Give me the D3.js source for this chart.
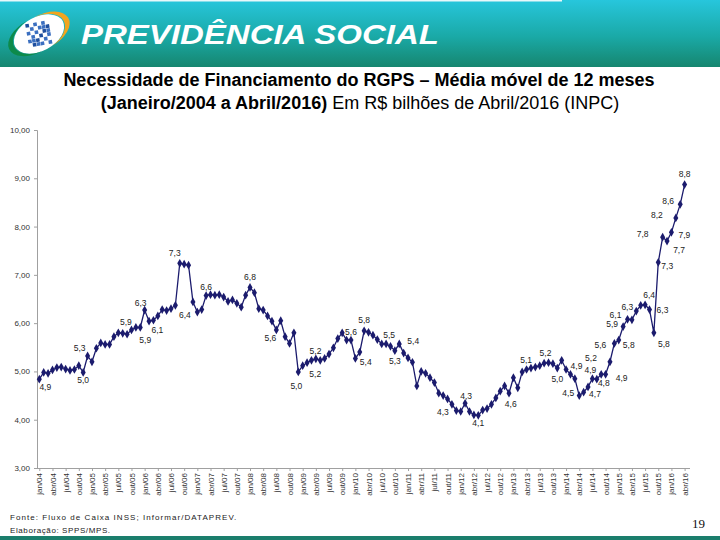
<!DOCTYPE html>
<html lang="pt">
<head>
<meta charset="UTF-8">
<title>Necessidade de Financiamento do RGPS</title>
<script src="https://d3js.org/d3.v7.min.js"></script>
<style>
  body { margin: 0; background: #fff; }
  svg { display: block; font-family: "Liberation Sans", Arial, sans-serif; }
</style>
</head>
<body>
<script>
// valores mensais, jan/2004 a abr/2016 (R$ bilhões)
const values = [
  4.84, 4.98, 4.96, 5.03, 5.08, 5.09, 5.05, 5.02, 5.04, 5.12, 4.98, 5.32,
  5.20, 5.48, 5.59, 5.56, 5.56, 5.72, 5.80, 5.79, 5.77, 5.86, 5.91, 5.91,
  6.27, 6.04, 6.06, 6.15, 6.28, 6.26, 6.30, 6.37, 7.24, 7.22, 7.20, 6.44,
  6.23, 6.28, 6.57, 6.59, 6.58, 6.59, 6.54, 6.45, 6.48, 6.41, 6.33, 6.58,
  6.74, 6.63, 6.30, 6.27, 6.15, 6.04, 5.86, 6.05, 5.72, 5.58, 5.80, 4.99,
  5.12, 5.18, 5.23, 5.26, 5.23, 5.27, 5.36, 5.49, 5.68, 5.80, 5.65, 5.65,
  5.27, 5.40, 5.84, 5.81, 5.75, 5.66, 5.57, 5.57, 5.52, 5.43, 5.57, 5.38,
  5.28, 5.19, 4.70, 5.00, 4.96, 4.87, 4.77, 4.55, 4.50, 4.43, 4.32, 4.19,
  4.17, 4.34, 4.17, 4.10, 4.09, 4.20, 4.23, 4.32, 4.45, 4.59, 4.70, 4.55,
  4.87, 4.66, 4.99, 5.04, 5.07, 5.09, 5.12, 5.17, 5.18, 5.16, 5.07, 5.23,
  5.04, 4.94, 4.85, 4.50, 4.57, 4.68, 4.85, 4.84, 4.94, 4.94, 5.20, 5.58,
  5.65, 5.93, 6.08, 6.07, 6.25, 6.37, 6.38, 6.28, 5.80, 7.26, 7.78, 7.70,
  7.88, 8.18, 8.46, 8.87
];
const years = ['04','05','06','07','08','09','10','11','12','13','14','15','16'];
const quarterNames = ['jan', 'abr', 'jul', 'out'];
const yTicks = [3, 4, 5, 6, 7, 8, 9, 10];

// rótulos de dados que aparecem no gráfico
const labelIdx  = [0, 10, 11, 22, 23, 24, 26, 32, 35, 38, 48, 54, 59, 62, 64, 71, 73, 74, 79, 81, 82,
                   94, 97, 100, 109, 110, 116, 118, 121, 123, 125, 126, 127, 130, 129, 131, 132, 133,
                   134, 136, 138, 139, 140, 141, 142, 143, 144, 145, 146, 147];
const labelText = ['4,9','5,0','5,3','5,9','5,9','6,3','6,1','7,3','6,4','6,6','6,8','5,6','5,0','5,2','5,2',
                   '5,6','5,4','5,8','5,5','5,3','5,4','4,3','4,3','4,1','4,6','5,1','5,2','5,0','4,9','4,5',
                   '4,7','4,9','4,8','5,2','4,9','5,6','5,8','5,9','6,1','6,3','6,4','6,3','5,8','7,3','7,8',
                   '7,7','7,9','8,2','8,6','8,8'];
// deslocamento de cada rótulo em px (centro do texto relativo ao ponto)
const labelNudge = [[6,8],[0,8],[-8,-8],[-10,-5],[5,13],[-4,-7],[4,10],[-5,-10],[-8,13],[0,-9],[0,-10],
                    [-6,8],[-2,14],[4,-9],[-5,14],[0,-8],[6,10],[0,-11],[3,-9],[0,10],[14,-3],[-9,8],
                    [1,-7],[0,8],[-7,16],[4,-12],[-3,-10],[0,11],[6,-8],[-11,-3],[7,7],[-2,-9],[7,4],
                    [-19,-4],[16,4],[-14,2],[10,5],[-11,-2],[-12,-4],[-9,-4],[4,-10],[13,0],[10,11],
                    [9,4],[-20,-3],[12,9],[13,3],[-19,-3],[-12,-3],[0,-11]];

const monthLabel = i => quarterNames[(i % 12) / 3] + '/' + years[Math.floor(i / 12)];
const tickIdx = d3.range(0, values.length, 3);

const W = 720, H = 540;
const svg = d3.select('body').append('svg').attr('width', W).attr('height', H);
const defs = svg.append('defs');

// cabeçalho
const grad = defs.append('linearGradient').attr('id', 'hdr').attr('x1', 0).attr('y1', 0).attr('x2', 0).attr('y2', 1);
grad.append('stop').attr('offset', '0%').attr('stop-color', '#27c6dc');
grad.append('stop').attr('offset', '55%').attr('stop-color', '#1aa9a6');
grad.append('stop').attr('offset', '100%').attr('stop-color', '#16866f');
svg.append('rect').attr('x', 0).attr('y', 0).attr('width', W).attr('height', 67).attr('fill', 'url(#hdr)');
svg.append('rect').attr('x', 0).attr('y', 0).attr('width', 562).attr('height', 1.5).attr('fill', '#e8f8fa');

// logotipo
const logo = svg.append('g').attr('transform', 'translate(39,34) rotate(-28)');
logo.append('ellipse').attr('rx', 27).attr('ry', 17).attr('fill', '#fff');
logo.append('path').attr('d', 'M -4,-17 A 27,17 0 0,0 -6,16.6 A 22,13 0 0,1 -4,-17 Z').attr('fill', '#0d8a4a');
logo.append('path').attr('d', 'M 4,-17 A 27,17 0 0,1 6,16.6 A 22,13 0 0,0 4,-17 Z').attr('fill', '#f2a51e');
const chk = svg.append('g').attr('transform', 'translate(39,34) rotate(-10)');
for (let r = 0; r < 6; r++) {
  for (let c = 0; c < 6; c++) {
    if ((r + c) % 2 === 0 || (r * c) % 3 === 1) {
      chk.append('rect').attr('x', -12 + c * 4).attr('y', -12 + r * 4).attr('width', 3.6).attr('height', 3.6)
        .attr('fill', (r + c) % 3 === 0 ? '#1f4f9e' : '#3b6fc0');
    }
  }
}
svg.append('text').attr('x', 81).attr('y', 44)
  .attr('font-size', 27).attr('font-weight', 'bold').attr('font-style', 'italic')
  .attr('fill', '#fff').attr('textLength', 358).attr('lengthAdjust', 'spacingAndGlyphs')
  .text('PREVIDÊNCIA SOCIAL');

// título
svg.append('text').attr('x', 359).attr('y', 86).attr('text-anchor', 'middle')
  .attr('font-size', 18).attr('font-weight', 'bold').attr('fill', '#000')
  .text('Necessidade de Financiamento do RGPS – Média móvel de 12 meses');
const t2 = svg.append('text').attr('x', 360).attr('y', 109).attr('text-anchor', 'middle')
  .attr('font-size', 18).attr('fill', '#000');
t2.append('tspan').attr('font-weight', 'bold').text('(Janeiro/2004 a Abril/2016)');
t2.append('tspan').text(' Em R$ bilhões de Abril/2016 (INPC)');

// escalas
const x = d3.scaleLinear().domain([0, values.length - 1]).range([39.3, 684.6]);
const y = d3.scaleLinear().domain([3, 10]).range([468, 130]);

// eixo Y
const yAxis = svg.append('g').attr('transform', 'translate(37,0)')
  .call(d3.axisLeft(y).tickValues(yTicks).tickSize(3).tickPadding(4)
    .tickFormat(d => d3.format('.2f')(d).replace('.', ',')));
yAxis.select('.domain').attr('stroke', '#a0a0a0');
yAxis.selectAll('.tick line').attr('stroke', '#a0a0a0');
yAxis.selectAll('text').attr('font-size', 8).attr('fill', '#333').attr('font-family', '"Liberation Sans", Arial, sans-serif');

// eixo X
const xAxis = svg.append('g').attr('transform', 'translate(0,468)')
  .call(d3.axisBottom(x).tickValues(tickIdx).tickSize(3).tickSizeOuter(0).tickFormat(monthLabel));
xAxis.select('.domain').attr('d', 'M37,0.5H690').attr('stroke', '#a0a0a0');
xAxis.selectAll('.tick line').attr('stroke', '#a0a0a0');
xAxis.selectAll('text')
  .attr('font-size', 8).attr('fill', '#333').attr('font-family', '"Liberation Sans", Arial, sans-serif')
  .attr('text-anchor', 'end').attr('transform', 'rotate(-90)')
  .attr('x', -5).attr('y', 0).attr('dy', '0.32em');

// linha e marcadores
const navy = '#1b1b6d';
svg.append('path').datum(values)
  .attr('d', d3.line().x((d, i) => x(i)).y(d => y(d)))
  .attr('fill', 'none').attr('stroke', navy).attr('stroke-width', 1.3);
svg.append('g').selectAll('path').data(values).join('path')
  .attr('transform', (d, i) => `translate(${x(i)},${y(d)})`)
  .attr('d', d3.symbol(d3.symbolDiamond, 22))
  .attr('fill', navy);

// rótulos de dados
svg.append('g').selectAll('text').data(labelIdx).join('text')
  .attr('x', (d, k) => x(d) + labelNudge[k][0])
  .attr('y', (d, k) => y(values[d]) + labelNudge[k][1])
  .attr('dy', '0.35em').attr('text-anchor', 'middle')
  .attr('font-size', 8.5).attr('fill', '#222')
  .text((d, k) => labelText[k]);

// rodapé
svg.append('text').attr('x', 10).attr('y', 520).attr('font-size', 8).attr('letter-spacing', 1.05).attr('fill', '#222')
  .text('Fonte: Fluxo de Caixa INSS; Informar/DATAPREV.');
svg.append('text').attr('x', 10).attr('y', 533).attr('font-size', 8).attr('letter-spacing', 0.6).attr('fill', '#222')
  .text('Elaboração: SPPS/MPS.');
svg.append('text').attr('x', 705).attr('y', 528).attr('text-anchor', 'end')
  .attr('font-size', 13).attr('font-family', '"Liberation Serif", serif').attr('fill', '#111').text('19');
svg.append('rect').attr('x', 0).attr('y', 536).attr('width', W).attr('height', 4).attr('fill', '#1b7e6c');
</script>
</body>
</html>
